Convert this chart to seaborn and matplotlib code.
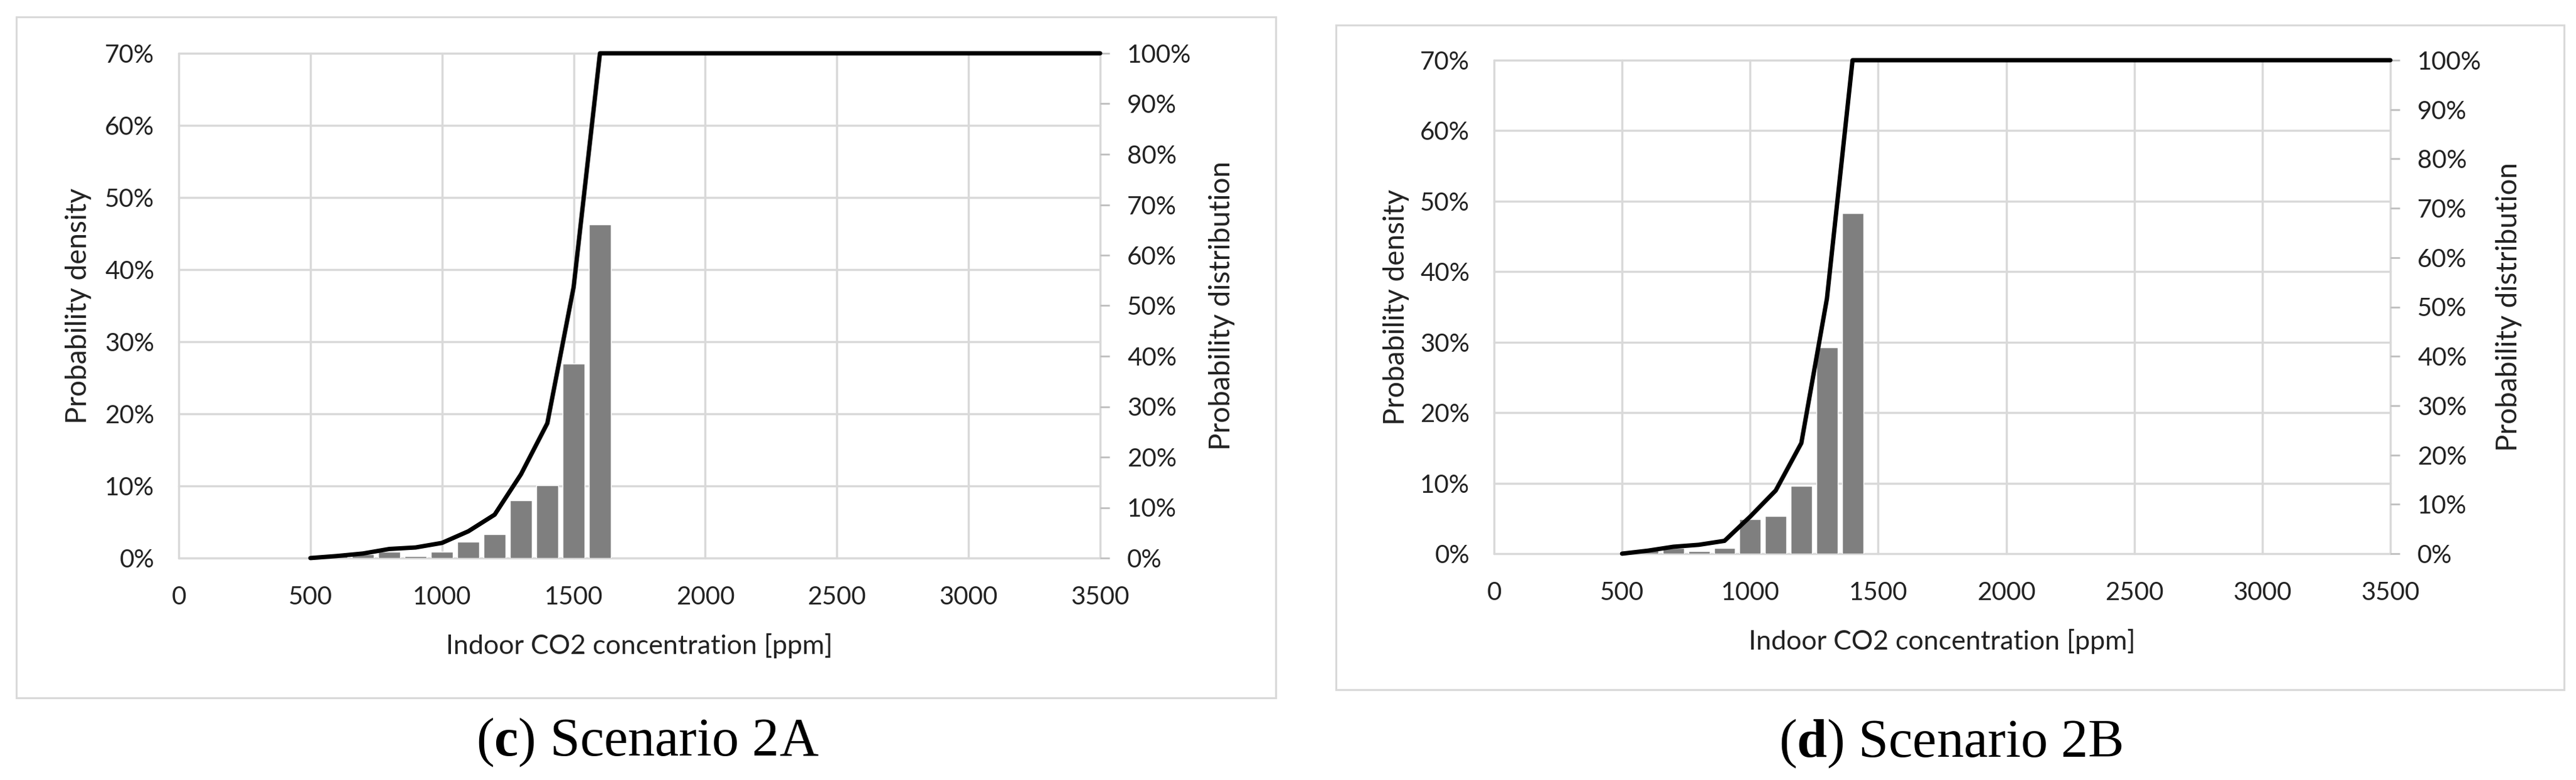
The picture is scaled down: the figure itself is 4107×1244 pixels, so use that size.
import matplotlib
matplotlib.use("Agg")
import matplotlib.pyplot as plt
from matplotlib.patches import Rectangle
from matplotlib.ticker import FuncFormatter
import seaborn as sns

# scenario 2A
bins_2a = [600, 700, 800, 900, 1000, 1100, 1200, 1300, 1400, 1500, 1600]
dens_2a = [0.4, 0.5, 0.9, 0.3, 0.9, 2.3, 3.3, 8.0, 10.1, 27.0, 46.3]
cdf_x_2a = [500, 600, 700, 800, 900, 1000, 1100, 1200, 1300, 1400, 1500, 1600, 3500]
cdf_2a = [0, 0.4, 0.9, 1.8, 2.1, 3.0, 5.3, 8.6, 16.6, 26.7, 53.7, 100, 100]

# scenario 2B
bins_2b = [600, 700, 800, 900, 1000, 1100, 1200, 1300, 1400]
dens_2b = [0.6, 0.8, 0.4, 0.8, 4.9, 5.3, 9.6, 29.3, 48.3]
cdf_x_2b = [500, 600, 700, 800, 900, 1000, 1100, 1200, 1300, 1400, 3500]
cdf_2b = [0, 0.6, 1.4, 1.8, 2.6, 7.5, 12.8, 22.4, 51.7, 100, 100]

captions = [r"($\mathbf{c}$) Scenario 2A", r"($\mathbf{d}$) Scenario 2B"]

sns.set_style("white")
plt.rcParams["font.family"] = ["Lato", "DejaVu Sans"]
plt.rcParams["mathtext.fontset"] = "custom"
plt.rcParams["mathtext.rm"] = "Liberation Serif"
plt.rcParams["mathtext.bf"] = "Liberation Serif:bold"

W, H = 4107, 1244
fig = plt.figure(figsize=(W / 100, H / 100), dpi=100)

GRID = "#d9d9d9"
FS = 29
TXT = "#222222"

# panel boxes in pixels: (left, top, right, bottom)
boxes = [(26, 27, 2034, 1113), (2130, 40, 4088, 1100)]
# plot areas in pixels: (left, top, right, bottom)
areas = [(285, 85, 1754, 890), (2382, 96, 3811, 883)]
cap_pos = [(1032, 1205), (3110, 1207)]

data = [(bins_2a, dens_2a, cdf_x_2a, cdf_2a), (bins_2b, dens_2b, cdf_x_2b, cdf_2b)]

for i, (bins, dens, cx, cy) in enumerate(data):
    l, t, r, b = boxes[i]
    fig.patches.append(Rectangle((l / W, 1 - b / H), (r - l) / W, (b - t) / H,
                                 transform=fig.transFigure, fill=False,
                                 edgecolor=GRID, lw=2.2))

    l, t, r, b = areas[i]
    ax = fig.add_axes([l / W, 1 - b / H, (r - l) / W, (b - t) / H])
    sns.barplot(x=bins, y=dens, native_scale=True, color="#7f7f7f",
                saturation=1, width=0.83, ax=ax)
    ax.set_xlim(0, 3500)
    ax.set_ylim(0, 70)
    ax.set_xticks(range(0, 3501, 500))
    ax.set_yticks(range(0, 71, 10))
    ax.yaxis.set_major_formatter(FuncFormatter(lambda v, p: f"{v:.0f}%"))
    ax.set_axisbelow(True)
    ax.grid(True, color=GRID, lw=2.5)
    for gl in ax.get_xgridlines() + ax.get_ygridlines():
        gl.set_clip_on(False)
    for s in ax.spines.values():
        s.set_visible(False)
    ax.tick_params(axis="both", length=0, labelsize=FS, colors=TXT)
    ax.tick_params(axis="x", pad=32)
    ax.tick_params(axis="y", pad=28)
    ax.set_xlabel("Indoor CO2 concentration [ppm]", fontsize=31, color=TXT, labelpad=28)
    ax.set_ylabel("Probability density", fontsize=33, color=TXT)
    ax.yaxis.set_label_coords((146 - 285) / (1754 - 285), 0.5)

    ax2 = ax.twinx()
    sns.lineplot(x=cx, y=cy, ax=ax2, color="black", linewidth=5)
    ax2.lines[0].set_clip_on(False)
    ax2.set_ylim(0, 100)
    ax2.set_yticks(range(0, 101, 10))
    ax2.yaxis.set_major_formatter(FuncFormatter(lambda v, p: f"{v:.0f}%"))
    for s in ax2.spines.values():
        s.set_visible(False)
    ax2.grid(False)
    ax2.tick_params(axis="y", length=11, width=2, color="#bfbfbf", labelsize=FS,
                    labelcolor=TXT, pad=20)
    ax2.set_ylabel("Probability distribution", fontsize=33, color=TXT)
    ax2.yaxis.set_label_coords((1927 - 285) / (1754 - 285), 0.5)

    cx_, cy_ = cap_pos[i]
    fig.text(cx_ / W, 1 - cy_ / H, captions[i], fontsize=62, ha="center",
             va="baseline", family="Liberation Serif", color="black")

fig.savefig("out.png", dpi=100)
